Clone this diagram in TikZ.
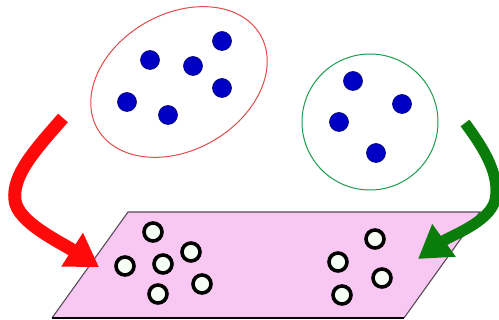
\documentclass[tikz,border=0pt]{standalone}
\usetikzlibrary{shapes.geometric,arrows.meta}
\definecolor{planefill}{HTML}{F9C8F2}
\definecolor{planeedge}{HTML}{5A4A5A}
\definecolor{dotblue}{HTML}{0000C4}
\definecolor{dotedge}{HTML}{00006A}
\definecolor{ellred}{HTML}{E24A4A}
\definecolor{circgreen}{HTML}{1E9A4E}
\definecolor{arrred}{HTML}{FF0A0A}
\definecolor{arrgreen}{HTML}{0A7C0A}
\definecolor{openfill}{HTML}{F6FFF6}
\tikzset{
  bdot/.style={circle,inner sep=0pt,minimum size=19pt,fill=dotblue,draw=dotedge,line width=0.6pt},
  odot/.style={circle,inner sep=0pt,minimum size=18pt,fill=openfill,draw=black,line width=3.6pt},
  bigarrow/.style={line width=#1,-{Triangle[length=32pt,width=38pt]}},
}
\begin{document}
\begin{tikzpicture}[x=1pt,y=-1pt]
\useasboundingbox (0,0) rectangle (499,320);
% plane
\coordinate (p1) at (128,212);
\coordinate (p2) at (480,212);
\coordinate (p3) at (404,318);
\coordinate (p4) at (52,318);
\fill[planefill] (p1) -- (p2) -- (p3) -- (p4) -- cycle;
\draw[planeedge,line width=1.1pt] (p4) -- (p1) -- (p2) -- (p3);
\draw[black,line width=2pt] (p3) -- (p4);
% groups
\node[ellipse,draw=ellred,line width=1pt,minimum width=188pt,minimum height=136pt,rotate=30] (grpA) at (179,82) {};
\node[circle,draw=circgreen,line width=1pt,minimum size=136pt,inner sep=0pt] (grpB) at (370,122) {};
% blue dots
\node[bdot] (a1) at (222,41) {};
\node[bdot] (a2) at (150,60) {};
\node[bdot] (a3) at (193,66) {};
\node[bdot] (a4) at (222,88) {};
\node[bdot] (a5) at (127,102) {};
\node[bdot] (a6) at (168,115) {};
\node[bdot] (b1) at (353,81) {};
\node[bdot] (b2) at (402,104) {};
\node[bdot] (b3) at (339,122) {};
\node[bdot] (b4) at (376,153) {};
% open dots
\node[odot] (c1) at (153,232) {};
\node[odot] (c2) at (191,252) {};
\node[odot] (c3) at (125,266) {};
\node[odot] (c4) at (163,264) {};
\node[odot] (c5) at (202,284) {};
\node[odot] (c6) at (158,294) {};
\node[odot] (d1) at (375,239) {};
\node[odot] (d2) at (338,262) {};
\node[odot] (d3) at (382,278) {};
\node[odot] (d4) at (342,295) {};
% arrows
\coordinate (rs) at (63,118);
\coordinate (rm) at (15,200);
\coordinate (rt) at (99,267);
\coordinate (gs) at (465,123);
\coordinate (gm) at (495,200);
\coordinate (gt) at (418,259);
\draw[arrred,bigarrow=13pt] (rs) .. controls (35,150) and (12,175) .. (rm)
  .. controls (17,222) and (60,242) .. (rt);
\draw[arrgreen,bigarrow=11pt] (gs) .. controls (485,150) and (500,175) .. (gm)
  .. controls (490,222) and (450,236) .. (gt);
\end{tikzpicture}
\end{document}
